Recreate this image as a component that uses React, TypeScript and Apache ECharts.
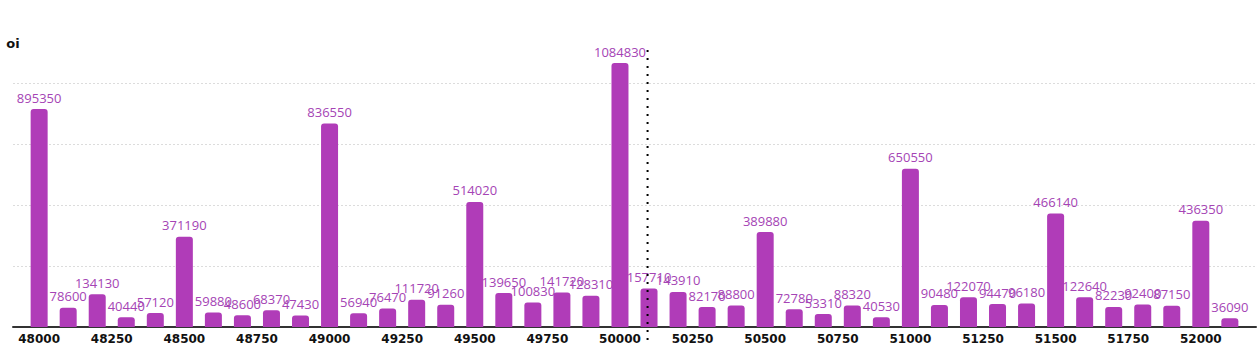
import React, { useEffect, useRef } from "react";
import * as echarts from "echarts";

const strikes = [
  48000, 48100, 48200, 48300, 48400, 48500, 48600, 48700, 48800, 48900,
  49000, 49100, 49200, 49300, 49400, 49500, 49600, 49700, 49800, 49900,
  50000, 50100, 50200, 50300, 50400, 50500, 50600, 50700, 50800, 50900,
  51000, 51100, 51200, 51300, 51400, 51500, 51600, 51700, 51800, 51900,
  52000, 52100,
];
const oi = [
  895350, 78600, 134130, 40440, 57120, 371190, 59880, 48600, 68370, 47430,
  836550, 56940, 76470, 111720, 91260, 514020, 139650, 100830, 141720, 128310,
  1084830, 157710, 143910, 82170, 88800, 389880, 72780, 53310, 88320, 40530,
  650550, 90480, 122070, 94470, 96180, 466140, 122640, 82230, 92400, 87150,
  436350, 36090,
];
const xTickLabels = [
  48000, 48250, 48500, 48750, 49000, 49250, 49500, 49750, 50000, 50250,
  50500, 50750, 51000, 51250, 51500, 51750, 52000,
];
const spot = 50095;
const xMin = 47910;
const xMax = 52190;

export default function App() {
  const ref = useRef<HTMLDivElement>(null);
  useEffect(() => {
    document.body.style.margin = "0";
    const chart = echarts.init(ref.current!, null, { renderer: "svg" });
    chart.setOption({
      animation: false,
      grid: { left: 13, right: 1, top: 63, bottom: 24 },
      xAxis: {
        type: "value",
        min: xMin,
        max: xMax,
        splitLine: { show: false },
        axisTick: { show: false },
        axisLine: { show: true, lineStyle: { color: "#333", width: 2 } },
        axisLabel: {
          customValues: xTickLabels,
          margin: 6,
          color: "#111",
          fontWeight: "bold",
          fontSize: 12,
          fontFamily: "DejaVu Sans",
          formatter: (v: number) => String(v),
        },
      },
      yAxis: {
        type: "value",
        name: "oi",
        nameGap: 13,
        nameTextStyle: {
          color: "#111",
          fontWeight: "bold",
          fontSize: 13,
          fontFamily: "DejaVu Sans",
        },
        min: 0,
        max: "dataMax",
        interval: 250000,
        axisLine: { show: false },
        axisTick: { show: false },
        axisLabel: { show: false },
        splitLine: {
          show: true,
          showMaxLine: false,
          lineStyle: { color: "#dcdcdc", type: [2, 2], width: 1 },
        },
      },
      series: [
        {
          type: "bar",
          data: strikes.map((s, i) => [s, oi[i]]),
          barWidth: 17,
          itemStyle: { color: "#b03cb8", borderRadius: [3, 3, 0, 0] },
          label: {
            show: true,
            position: "top",
            distance: 5,
            color: "#a544b5",
            fontSize: 13,
            fontFamily: "Open Sans",
          },
        },
      ],
    });
    const px = chart.convertToPixel({ xAxisIndex: 0 }, spot) as number;
    chart.setOption({
      graphic: [
        {
          type: "line",
          shape: { x1: px, y1: 50, x2: px, y2: 342 },
          style: { stroke: "#000", lineWidth: 2, lineDash: [2, 6] },
          z: 100,
        },
      ],
    });
    return () => chart.dispose();
  }, []);
  return <div ref={ref} style={{ width: 1257, height: 351 }} />;
}
